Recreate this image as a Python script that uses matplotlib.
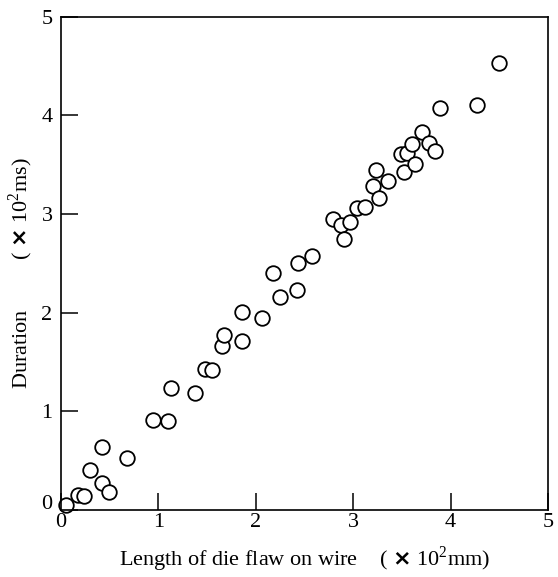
import matplotlib
matplotlib.use("Agg")
import matplotlib.pyplot as plt
import matplotlib.transforms as mtransforms

# --- data (x: flaw length, y: duration, both x100) ---
flaw_len = [0.05, 0.18, 0.24, 0.30, 0.42, 0.42, 0.49, 0.68, 0.95, 1.10,
            1.13, 1.38, 1.48, 1.55, 1.65, 1.67, 1.86, 1.86, 2.07, 2.18,
            2.25, 2.42, 2.43, 2.58, 2.79, 2.88, 2.91, 2.97, 3.04, 3.12,
            3.20, 3.24, 3.27, 3.36, 3.49, 3.52, 3.55, 3.60, 3.64, 3.71,
            3.78, 3.84, 3.89, 4.27, 4.50]
duration = [0.05, 0.15, 0.14, 0.41, 0.64, 0.27, 0.18, 0.53, 0.91, 0.90,
            1.24, 1.19, 1.43, 1.42, 1.66, 1.77, 1.71, 2.01, 1.95, 2.40,
            2.16, 2.23, 2.50, 2.58, 2.95, 2.89, 2.75, 2.92, 3.06, 3.07,
            3.28, 3.45, 3.16, 3.34, 3.61, 3.43, 3.62, 3.71, 3.51, 3.83,
            3.72, 3.64, 4.07, 4.11, 4.53]
ticks = [0, 1, 2, 3, 4, 5]

plt.rcParams['font.family'] = ['Liberation Serif', 'DejaVu Serif']
plt.rcParams['mathtext.fontset'] = 'custom'
plt.rcParams['mathtext.rm'] = 'Liberation Serif'

fig = plt.figure(figsize=(5.58, 5.77), dpi=100)
ax = fig.add_axes([0.109, 0.116, 0.873, 0.855])

ax.plot(flaw_len, duration, 'o', mfc='white', mec='black', ms=10.5, mew=1.3,
        clip_on=False)

ax.set_xlim(0, 5)
ax.set_ylim(0, 5)
ax.set_xticks(ticks)
ax.set_yticks(ticks)
ax.tick_params(direction='in', length=12.5, width=1.1, labelsize=16)
ax.tick_params(axis='x', pad=2)
ax.tick_params(axis='y', pad=6)
for s in ax.spines.values():
    s.set_linewidth(1.2)

# the y "0" sits a little above the corner
lbl0 = ax.get_yticklabels()[0]
lbl0.set_transform(lbl0.get_transform() +
                   mtransforms.ScaledTranslation(0, 8 / 100, fig.dpi_scale_trans))

ax.set_xlabel('Length of die flaw on wire    ( $\\mathbf{\\times}$ 10$^2$mm)',
              fontsize=16, labelpad=9)
ax.set_ylabel('Duration         ( $\\mathbf{\\times}$ 10$^2$ms)', fontsize=16)
ax.yaxis.set_label_coords(-0.052, 0.48)

fig.savefig("out.png", dpi=100)
